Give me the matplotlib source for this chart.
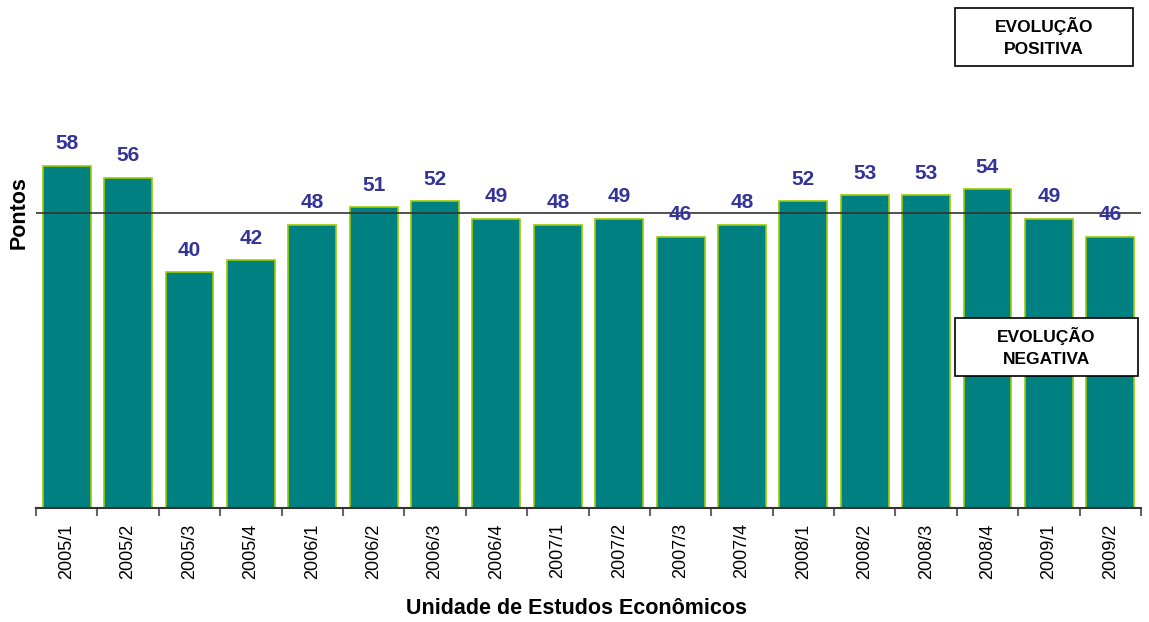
import matplotlib.pyplot as plt
from matplotlib.patches import Rectangle

plt.rcParams['font.family'] = ['Liberation Sans', 'DejaVu Sans']

# quarters and index points
periodos = ['2005/1', '2005/2', '2005/3', '2005/4', '2006/1', '2006/2', '2006/3', '2006/4',
            '2007/1', '2007/2', '2007/3', '2007/4', '2008/1', '2008/2', '2008/3', '2008/4',
            '2009/1', '2009/2']
pontos = [58, 56, 40, 42, 48, 51, 52, 49, 48, 49, 46, 48, 52, 53, 53, 54, 49, 46]
linha_ref = 50

fig = plt.figure(figsize=(11.49, 6.22), dpi=100)
ax = fig.add_axes([36 / 1149, (622 - 508) / 622, 1105 / 1149, 413 / 622])

x = list(range(len(periodos)))
ax.bar(x, pontos, width=0.78, color='#008080', edgecolor='#99CC00', linewidth=1.2, zorder=2)
ax.axhline(linha_ref, color='#333333', linewidth=1.2, zorder=3)

for i, v in enumerate(pontos):
    ax.annotate(str(v), (i, v), xytext=(0, 9), textcoords='offset points',
                ha='center', va='bottom', fontsize=15, fontweight='bold', color='#333399')

ax.set_xlim(-0.5, len(periodos) - 0.5)
ax.set_ylim(0, 70)

# ticks sit on category boundaries, labels in the middle
ax.set_xticks([i - 0.5 for i in range(len(periodos) + 1)])
ax.set_xticklabels([])
ax.set_xticks(x, minor=True)
ax.set_xticklabels(periodos, minor=True, rotation=90, fontsize=13)
ax.tick_params(axis='x', which='major', length=6, width=1.5, color='#666666', direction='out')
ax.tick_params(axis='x', which='minor', length=0, pad=11)
ax.set_yticks([])

for s in ['top', 'right', 'left']:
    ax.spines[s].set_visible(False)
ax.spines['bottom'].set_color('#333333')
ax.spines['bottom'].set_linewidth(1.5)

ax.set_ylabel('Pontos', fontsize=15.5, fontweight='bold')
ax.yaxis.set_label_coords(-0.006, 0.715)
fig.text(576 / 1149, 1 - 609 / 622, 'Unidade de Estudos Econômicos', ha='center', va='center',
         fontsize=15.5, fontweight='bold')

# the two legend boxes
def caixa(x0, y0, w, h, texto):
    fig.patches.append(Rectangle((x0 / 1149, 1 - (y0 + h) / 622), w / 1149, h / 622,
                                 transform=fig.transFigure, facecolor='white',
                                 edgecolor='black', linewidth=1.2, zorder=5))
    fig.text((x0 + w / 2) / 1149, 1 - (y0 + h / 2) / 622, texto, ha='center', va='center',
             fontsize=12.5, fontweight='bold', linespacing=1.55, zorder=6)

caixa(955, 8, 178, 58, 'EVOLUÇÃO\nPOSITIVA')
caixa(955, 318, 183, 58, 'EVOLUÇÃO\nNEGATIVA')

fig.savefig('out.png', dpi=100)
